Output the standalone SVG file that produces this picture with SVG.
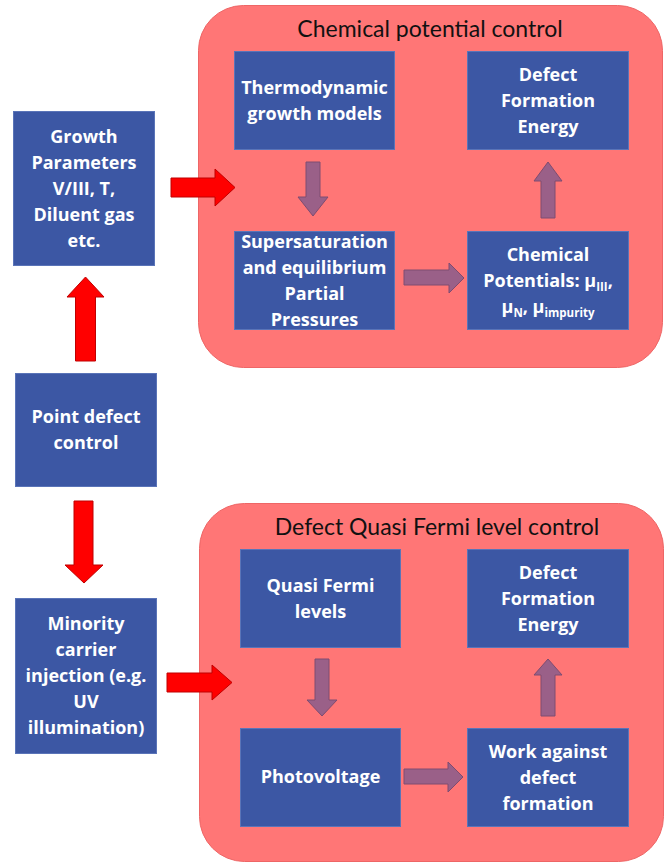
<svg xmlns="http://www.w3.org/2000/svg" width="670" height="863" viewBox="0 0 670 863">
<style>
.bg{fill:#ffffff}
.panel{fill:#FF7676;stroke:#EE6666;stroke-width:1}
.box{fill:#3C57A4;stroke:#5A74B8;stroke-width:1}
.t{font-family:"Open Sans",Lato,"Liberation Sans",sans-serif;font-weight:bold;font-size:18px;fill:#ffffff;text-anchor:middle}
.title{font-family:Lato,"Open Sans","Liberation Sans",sans-serif;font-size:23px;fill:#111111;text-anchor:middle}
.sub{font-size:11.5px}
.red{fill:#FF0000;stroke:#C00000;stroke-width:1}
.pur{fill:#9A6088;stroke:#7E4C70;stroke-width:1}
</style>
<rect class="bg" x="0" y="0" width="670" height="863"/>
<g id="panel-chemical">
<rect class="panel" x="198.5" y="5.5" width="464" height="362" rx="45" ry="45"/>
<text class="title" x="430" y="37">Chemical potential control</text>
</g>
<g id="panel-fermi">
<rect class="panel" x="199.5" y="503.5" width="464" height="358" rx="45" ry="45"/>
<text class="title" x="437" y="535">Defect Quasi Fermi level control</text>
</g>
<g id="growth-parameters">
<rect class="box" x="13.5" y="111.5" width="141" height="154"/>
<text class="t" x="84" y="143">Growth</text>
<text class="t" x="84" y="169">Parameters</text>
<text class="t" x="84" y="195">V/III, T,</text>
<text class="t" x="84" y="221">Diluent gas</text>
<text class="t" x="84" y="247">etc.</text>
</g>
<g id="point-defect-control">
<rect class="box" x="15.5" y="373.5" width="141" height="113"/>
<text class="t" x="86" y="423">Point defect</text>
<text class="t" x="86" y="449">control</text>
</g>
<g id="minority-carrier">
<rect class="box" x="15.5" y="598.5" width="141" height="155"/>
<text class="t" x="86" y="630">Minority</text>
<text class="t" x="86" y="656">carrier</text>
<text class="t" x="86" y="682">injection (e.g.</text>
<text class="t" x="86" y="708">UV</text>
<text class="t" x="86" y="734">illumination)</text>
</g>
<g id="thermodynamic">
<rect class="box" x="234.5" y="51.5" width="160" height="98"/>
<text class="t" x="314.5" y="94">Thermodynamic</text>
<text class="t" x="314.5" y="120">growth models</text>
</g>
<g id="defect-formation-top">
<rect class="box" x="467.5" y="51.5" width="161" height="98"/>
<text class="t" x="548" y="81">Defect</text>
<text class="t" x="548" y="107">Formation</text>
<text class="t" x="548" y="133">Energy</text>
</g>
<g id="supersaturation">
<rect class="box" x="234.5" y="231.5" width="160" height="98"/>
<text class="t" x="314.5" y="248">Supersaturation</text>
<text class="t" x="314.5" y="274">and equilibrium</text>
<text class="t" x="314.5" y="300">Partial</text>
<text class="t" x="314.5" y="326">Pressures</text>
</g>
<g id="chemical-potentials">
<rect class="box" x="467.5" y="231.5" width="161" height="98"/>
<text class="t" x="548" y="261">Chemical</text>
<text class="t" x="548" y="287">Potentials: μ<tspan class="sub" dy="4">III</tspan><tspan dy="-4">,</tspan></text>
<text class="t" x="548" y="313">μ<tspan class="sub" dy="4">N</tspan><tspan dy="-4">, μ</tspan><tspan class="sub" dy="4">impurity</tspan></text>
</g>
<g id="quasi-fermi">
<rect class="box" x="240.5" y="549.5" width="160" height="98"/>
<text class="t" x="320.5" y="592">Quasi Fermi</text>
<text class="t" x="320.5" y="618">levels</text>
</g>
<g id="defect-formation-bottom">
<rect class="box" x="467.5" y="549.5" width="161" height="98"/>
<text class="t" x="548" y="579">Defect</text>
<text class="t" x="548" y="605">Formation</text>
<text class="t" x="548" y="631">Energy</text>
</g>
<g id="photovoltage">
<rect class="box" x="240.5" y="728.5" width="160" height="98"/>
<text class="t" x="320.5" y="783">Photovoltage</text>
</g>
<g id="work-against">
<rect class="box" x="467.5" y="728.5" width="161" height="98"/>
<text class="t" x="548" y="758">Work against</text>
<text class="t" x="548" y="784">defect</text>
<text class="t" x="548" y="810">formation</text>
</g>
<g id="connectors">
<polygon class="red" points="171,178 215,178 215,169 235,187.5 215,206 215,197 171,197"/>
<polygon class="red" points="85.5,277 104,297 95.5,297 95.5,361 75.5,361 75.5,297 67,297"/>
<polygon class="red" points="74,501 93,501 93,565 103,565 84,583 65,565 74,565"/>
<polygon class="red" points="167,673 212,673 212,665 232,682.5 212,700 212,692 167,692"/>
<polygon class="pur" points="306,162 320,162 320,197 328,197 313,216 298,197 306,197"/>
<polygon class="pur" points="548,162 562,181 555,181 555,218 541,218 541,181 534,181"/>
<polygon class="pur" points="404,270 449,270 449,263 464,278 449,293 449,285 404,285"/>
<polygon class="pur" points="315,659 329,659 329,700 337,700 322,716 307,700 315,700"/>
<polygon class="pur" points="548,659 562,675 555,675 555,716 541,716 541,675 534,675"/>
<polygon class="pur" points="404,769 448,769 448,762 463,777 448,792 448,784 404,784"/>
</g>
</svg>
